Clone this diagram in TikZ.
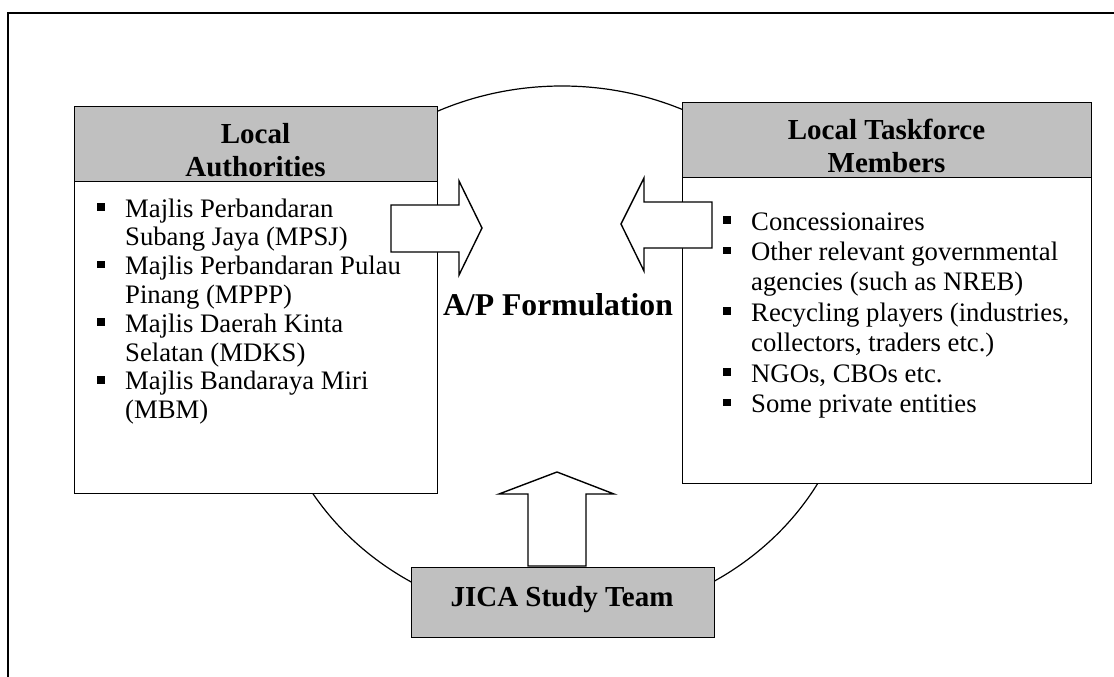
\documentclass[tikz,border=0pt]{standalone}
\usepackage{fontspec}
\setmainfont{Liberation Serif}
\definecolor{hdrgray}{HTML}{C0C0C0}
\newcommand\sqbul{\makebox[28pt][l]{\raisebox{6.3pt}{\rule{7.5pt}{7.5pt}}}}
\newcommand\contind{\hspace*{28pt}}
\tikzset{
  boxline/.style={draw=black, line width=1.4pt, inner sep=0pt, anchor=north west},
  hdrbox/.style={boxline, fill=hdrgray},
  bodybox/.style={boxline, fill=white},
  blockarrow/.style={draw=black, fill=white, line width=1.4pt, line join=miter},
  hdrtxt/.style={inner sep=0pt, anchor=base, font=\fontsize{29}{33}\selectfont\bfseries},
  listtxt/.style={inner sep=0pt, anchor=base west},
}
\begin{document}
\begin{tikzpicture}[x=1pt,y=-1pt]
\useasboundingbox (0,0) rectangle (1114,677);
% outer frame
\draw[line width=2.4pt, line join=miter] (8,677) -- (8,13) -- (1114,13);
% cycle ellipse
\draw[line width=1.2pt] (562,353) ellipse [x radius=293, y radius=267];
% left box
\node[hdrbox, minimum width=363pt, minimum height=75pt] (lahead) at (74,106) {};
\node[bodybox, minimum width=363pt, minimum height=312pt] (labody) at (74,181) {};
% right box
\node[hdrbox, minimum width=409pt, minimum height=75pt] (lthead) at (682,102) {};
\node[bodybox, minimum width=409pt, minimum height=306pt] (ltbody) at (682,177) {};
% JICA box
\node[hdrbox, minimum width=303pt, minimum height=70pt] (jica) at (411,567) {};
% block arrows
\draw[blockarrow] (391,205) -- (459,205) -- (459,181) -- (482,228) -- (459,275) -- (459,252) -- (391,252) -- cycle;
\draw[blockarrow] (712,202) -- (644,202) -- (644,178) -- (621,224) -- (644,271) -- (644,248) -- (712,248) -- cycle;
\draw[blockarrow] (528,566) -- (528,494) -- (499,494) -- (557,472) -- (614,494) -- (586,494) -- (586,566) -- cycle;
% header texts
\node[hdrtxt] (latitle) at (255.5,143) {\vtop{\halign{\hfil#\hfil\cr Local\cr Authorities\cr}}};
\node[hdrtxt] (lttitle) at (886.5,139) {\vtop{\halign{\hfil#\hfil\cr Local Taskforce\cr Members\cr}}};
\node[hdrtxt] (jicatxt) at (562,606) {JICA Study Team};
\node[inner sep=0pt, anchor=base, font=\fontsize{31.7}{36}\selectfont\bfseries] (ap) at (558,315) {A/P Formulation};
% lists
\node[listtxt] (lalist) at (97,217) {\fontsize{26.7}{28.8}\selectfont\vtop{%
\hbox{\sqbul Majlis Perbandaran}
\hbox{\contind Subang Jaya (MPSJ)}
\hbox{\sqbul Majlis Perbandaran Pulau}
\hbox{\contind Pinang (MPPP)}
\hbox{\sqbul Majlis Daerah Kinta}
\hbox{\contind Selatan (MDKS)}
\hbox{\sqbul Majlis Bandaraya Miri}
\hbox{\contind (MBM)}}};
\node[listtxt] (ltlist) at (723,230) {\fontsize{26.7}{30.4}\selectfont\vtop{%
\hbox{\sqbul Concessionaires}
\hbox{\sqbul Other relevant governmental}
\hbox{\contind agencies (such as NREB)}
\hbox{\sqbul Recycling players (industries,}
\hbox{\contind collectors, traders etc.)}
\hbox{\sqbul NGOs, CBOs etc.}
\hbox{\sqbul Some private entities}}};
\end{tikzpicture}
\end{document}
